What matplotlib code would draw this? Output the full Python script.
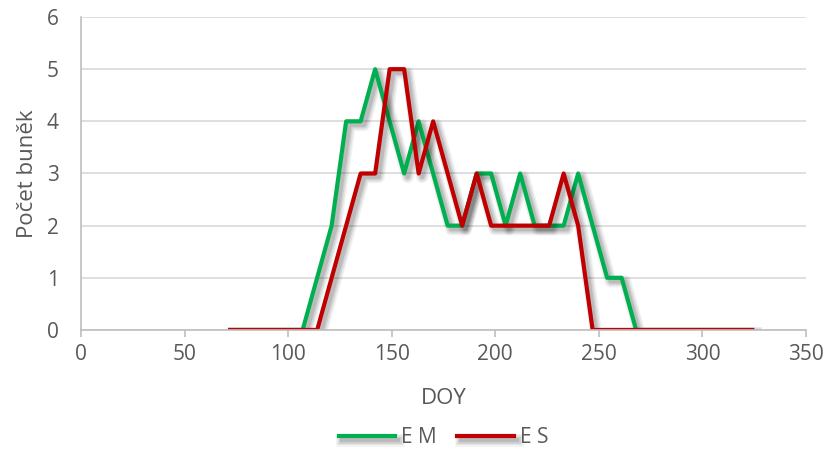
import matplotlib
matplotlib.use("Agg")
import matplotlib.pyplot as plt
import matplotlib.patheffects as pe

# týdenní odběry (DOY) a počet buněk
doy = list(range(72, 325, 7))
em = [0, 0, 0, 0, 0, 0, 1, 2, 4, 4, 5, 4, 3, 4, 3, 2, 2, 3, 3, 2, 3, 2, 2, 2, 3, 2, 1, 1, 0,
      0, 0, 0, 0, 0, 0, 0, 0]
es = [0, 0, 0, 0, 0, 0, 0, 1, 2, 3, 3, 5, 5, 3, 4, 3, 2, 3, 2, 2, 2, 2, 2, 3, 2, 0, 0, 0, 0,
      0, 0, 0, 0, 0, 0, 0, 0]

plt.rcParams['font.family'] = ['Open Sans', 'DejaVu Sans']
txt = '#595959'
grid = '#d9d9d9'

fig = plt.figure(figsize=(8.3, 4.5), dpi=100)
ax = fig.add_axes([0.0976, 0.2667, 0.8735, 0.6955])

# rozmazaný stín pod čarou (několik průhledných tahů)
lw = 3
shadow = [pe.Stroke(offset=(2.5, -2.5), linewidth=lw + w, foreground='black', alpha=a)
          for w, a in [(6, 0.05), (4, 0.06), (2, 0.08), (0, 0.1)]] + [pe.Normal()]
ax.plot(doy, em, color='#00b050', lw=lw, label='E M', path_effects=shadow)
ax.plot(doy, es, color='#c00000', lw=lw, label='E S', path_effects=shadow)

ax.set_xlim(0, 350)
ax.set_ylim(0, 6)
ax.set_xticks(range(0, 351, 50))
ax.set_yticks(range(0, 7))
ax.grid(axis='y', color=grid, lw=1.2)
ax.set_axisbelow(True)
for s in ['top', 'right']:
    ax.spines[s].set_visible(False)
for s in ['left', 'bottom']:
    ax.spines[s].set_color('#bfbfbf')
    ax.spines[s].set_linewidth(1.2)
ax.tick_params(axis='x', colors='#bfbfbf', length=5, width=1.2, labelcolor=txt, labelsize=15, pad=5)
ax.tick_params(axis='y', length=0, labelcolor=txt, labelsize=15, pad=16)

ax.set_xlabel('DOY', color=txt, fontsize=16, labelpad=17)
ax.set_ylabel('Počet buněk', color=txt, fontsize=16, labelpad=6)

ax.legend(loc='center', bbox_to_anchor=(0.5, -0.345), ncol=2, frameon=False,
          fontsize=15, labelcolor=txt, handlelength=2.7, columnspacing=1.0, handletextpad=0.3)

fig.savefig('out.png', dpi=100)
